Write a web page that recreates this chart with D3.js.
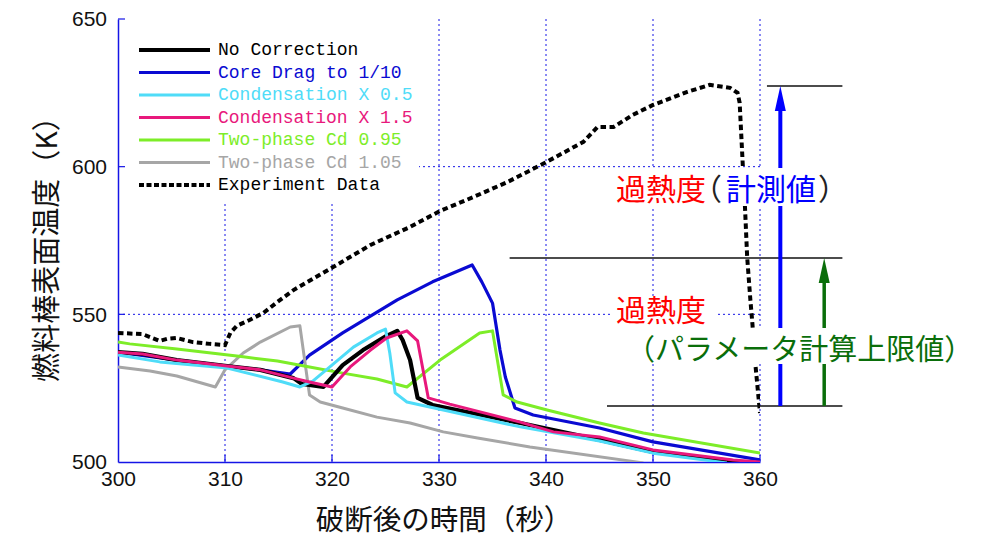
<!DOCTYPE html>
<html><head><meta charset="utf-8">
<script src="https://cdn.jsdelivr.net/npm/d3@7"></script>
<style>html,body{margin:0;padding:0;background:#fff;}svg{display:block;}</style>
</head><body><svg id="chart" width="984" height="539"></svg>
<script>
// ---- data ----
const xTicks = [300, 310, 320, 330, 340, 350, 360];
const yTicks = [500, 550, 600, 650];
const seriesNames = ["No Correction","Core Drag to 1/10","Condensation X 0.5","Condensation X 1.5","Two-phase Cd 0.95","Two-phase Cd 1.05","Experiment Data"];
const noCorrection = [[300,537.2],[302.3,536.6],[305.5,534.5],[310.2,532.5],[313.3,531.2],[316.4,528.4],[317.2,526.4],[319.2,525.4],[321.0,532.8],[322.9,537.9],[325.1,542.7],[326.1,544.4],[326.6,541.3],[327.3,534.5],[328.0,521.7],[329.4,519.3],[337.6,513.2],[345.0,507.5],[350.0,503.4],[358.8,499.7]];
const coreDrag = [[300,537.2],[305.5,534.5],[310.2,532.5],[313.3,531.2],[316.1,529.8],[317.9,536.2],[321.0,543.7],[326.1,554.9],[329.4,561.0],[333.1,566.7],[334.0,561.0],[335.0,553.8],[335.7,537.9],[336.2,528.8],[337.1,518.3],[338.8,515.9],[345.0,511.5],[350.0,506.8],[360,500.7]];
const condensation05 = [[300,536.2],[303.9,533.9],[310.2,531.8],[315.4,527.1],[317.0,525.4],[318.2,527.4],[319.8,532.2],[322.0,538.9],[324.2,543.7],[325.0,545.0],[325.4,536.9],[325.9,523.4],[327.0,520.3],[330.4,517.6],[337.6,511.9],[345.0,507.1],[350.0,503.0],[356.9,499.7]];
const condensation15 = [[300,537.2],[302.3,536.6],[305.5,534.5],[310.2,532.5],[313.3,531.2],[316.4,528.4],[317.9,527.1],[320.0,525.4],[321.7,532.2],[323.6,537.9],[325.1,542.0],[327.0,544.4],[328.0,541.0],[329.0,521.7],[331.0,519.6],[337.6,513.5],[340.7,510.2],[345.0,508.5],[350.0,504.1],[357.5,500.7],[360,500]];
const twoPhase095 = [[300,540.6],[301.1,540.0],[305.5,538.3],[311.7,535.6],[314.9,534.2],[317.9,532.2],[321.0,530.1],[324.2,528.1],[327.0,525.4],[330.1,534.5],[333.8,543.7],[335.0,544.4],[336.0,522.7],[337.3,520.3],[340.1,517.6],[345.0,513.2],[349.1,509.8],[360,503.0]];
const twoPhase105 = [[300,532.2],[303.0,530.8],[305.5,529.1],[309.1,525.4],[310.0,531.2],[311.7,536.9],[313.3,540.6],[316.1,545.7],[317.0,546.1],[317.9,522.7],[318.9,520.3],[321.0,518.3],[324.2,515.2],[327.3,513.2],[330.4,510.2],[333.6,508.1],[338.5,505.1],[349.1,499.7]];
const experiment = [[300,543.7],[302.3,543.3],[303.9,541.0],[304.6,541.7],[305.5,542.0],[307.0,540.6],[308.6,540.0],[310.0,539.6],[310.5,543.7],[311.1,546.1],[312.3,548.1],[313.6,550.5],[314.9,554.2],[316.4,558.2],[320.1,566.0],[323.6,573.5],[327.3,579.6],[330.1,585.0],[333.2,589.7],[336.4,594.8],[339.9,601.3],[343.5,608.4],[344.8,613.4],[346.3,613.4],[348.1,617.5],[350.0,620.9],[353.2,625.3],[355.3,627.7],[357.2,626.7],[357.9,625.0],[358.1,621.6],[358.4,599.9],[358.6,586.0],[358.8,569.4],[359.1,554.9],[359.3,546.4],[359.5,535.6],[360.0,516.6]];
// annotation reference levels (K) and their horizontal extents (s)
const refLevels = [627.3, 569.1, 519.0];
const refStarts = [360.65, 336.6, 345.7];
const refEnd = 367.7;
const arrowX = [361.9, 366.0];
const annoMeasured = ["過熱度", "（", "計測値", "）"];
const annoParam = ["過熱度", "（パラメータ計算上限値）"];
const xTitle = "破断後の時間（秒）";
const yTitle = "燃料棒表面温度（K）";

// ---- chart ----
const svg = d3.select("#chart");
const L = 118, R = 760, T = 19, B = 462;
const x = d3.scaleLinear().domain([300, 360]).range([L, R]);
const y = d3.scaleLinear().domain([500, 650]).range([B, T]);
const axisBlue = "#1515e6";
const jp = "'Noto Sans CJK JP','Noto Sans',sans-serif";

svg.append("defs").append("clipPath").attr("id","clip")
  .append("rect").attr("x", L).attr("y", T).attr("width", R - L).attr("height", B - T);

// gridlines
const grid = svg.append("g");
grid.selectAll("line.v").data(xTicks.slice(1)).join("line")
  .attr("x1", d => x(d)).attr("x2", d => x(d)).attr("y1", T).attr("y2", B)
  .attr("stroke", axisBlue).attr("stroke-width", 1).attr("stroke-dasharray", "2,3");
grid.selectAll("line.h").data([550, 600]).join("line")
  .attr("x1", L).attr("x2", R).attr("y1", d => y(d)).attr("y2", d => y(d))
  .attr("stroke", axisBlue).attr("stroke-width", 1).attr("stroke-dasharray", "2,3");

// legend background (hides grid behind legend)
svg.append("rect").attr("x", L + 1).attr("y", T).attr("width", 300).attr("height", 182).attr("fill", "#fff");

// axes
const yAxis = d3.axisLeft(y).tickValues(yTicks).tickSize(0).tickPadding(11);
const gy = svg.append("g").attr("transform", `translate(${L},0)`).call(yAxis);
gy.select(".domain").attr("stroke", axisBlue).attr("stroke-width", 1.5);
gy.selectAll("text").attr("font-family", "'Liberation Sans',Arial,sans-serif").attr("font-size", 21).attr("fill", "#111");
svg.append("g").selectAll("line").data(yTicks.slice(1)).join("line")
  .attr("x1", L).attr("x2", L + 7).attr("y1", d => y(d)).attr("y2", d => y(d))
  .attr("stroke", axisBlue).attr("stroke-width", 1.2);

const xAxis = d3.axisBottom(x).tickValues(xTicks).tickSize(0).tickPadding(9);
const gx = svg.append("g").attr("transform", `translate(0,${B})`).call(xAxis);
gx.select(".domain").attr("stroke", axisBlue).attr("stroke-width", 1.5);
gx.selectAll("text").attr("font-family", "'Liberation Sans',Arial,sans-serif").attr("font-size", 21).attr("fill", "#111");
svg.append("g").selectAll("line").data(xTicks.slice(1)).join("line")
  .attr("x1", d => x(d)).attr("x2", d => x(d)).attr("y1", B).attr("y2", B - 7)
  .attr("stroke", axisBlue).attr("stroke-width", 1.2);

// curves
const line = d3.line().x(d => x(d[0])).y(d => y(d[1]));
const series = [
  {data: coreDrag, color: "#0a0ad2", w: 3.2},
  {data: twoPhase105, color: "#a6a6a6", w: 3},
  {data: twoPhase095, color: "#7ded28", w: 3},
  {data: noCorrection, color: "#000000", w: 4.2},
  {data: condensation05, color: "#4fdcf8", w: 3},
  {data: condensation15, color: "#e8187c", w: 3},
];
const curves = svg.append("g").attr("clip-path", "url(#clip)");
curves.selectAll("path.s").data(series).join("path")
  .attr("d", d => line(d.data)).attr("fill", "none")
  .attr("stroke", d => d.color).attr("stroke-width", d => d.w).attr("stroke-linejoin", "round");
curves.append("path").attr("d", line(experiment)).attr("fill", "none")
  .attr("stroke", "#000").attr("stroke-width", 4).attr("stroke-dasharray", "5.5,3.5");

// annotation reference lines
const ann = svg.append("g");
ann.selectAll("line.ref").data(refLevels).join("line")
  .attr("x1", (d, i) => x(refStarts[i])).attr("x2", x(refEnd))
  .attr("y1", d => y(d)).attr("y2", d => y(d)).attr("stroke", "#111").attr("stroke-width", 1.5);
// arrows
function arrow(xv, top, bottom, color, w) {
  const px = x(xv), yt = y(top), yb = y(bottom);
  ann.append("line").attr("x1", px).attr("x2", px).attr("y1", yb).attr("y2", yt + 20)
    .attr("stroke", color).attr("stroke-width", w);
  ann.append("path").attr("d", `M${px},${yt} L${px - 5.5},${yt + 25} L${px + 5.5},${yt + 25} Z`).attr("fill", color);
}
arrow(arrowX[0], refLevels[0], refLevels[2], "#0000ff", 4);
arrow(arrowX[1], refLevels[1], refLevels[2], "#0a6e0a", 3.5);

// annotation text boxes
svg.append("rect").attr("x", 612).attr("y", 168).attr("width", 232).attr("height", 38).attr("fill", "#fff");
svg.append("rect").attr("x", 612).attr("y", 296).attr("width", 104).attr("height", 30).attr("fill", "#fff");
svg.append("rect").attr("x", 636).attr("y", 328).attr("width", 336).attr("height", 36).attr("fill", "#fff");

const t1 = svg.append("text").attr("y", 187).attr("dominant-baseline", "central")
  .attr("font-family", jp).attr("font-size", 30);
t1.append("tspan").attr("x", 616).attr("fill", "#ff0000").text(annoMeasured[0]);
t1.append("tspan").attr("x", 707).attr("fill", "#222").style("font-feature-settings", "'halt'").text(annoMeasured[1]);
t1.append("tspan").attr("x", 726).attr("fill", "#0000ff").text(annoMeasured[2]);
t1.append("tspan").attr("x", 818).attr("fill", "#222").style("font-feature-settings", "'halt'").text(annoMeasured[3]);

svg.append("text").attr("x", 616).attr("y", 308).attr("dominant-baseline", "central")
  .attr("font-family", jp).attr("font-size", 30).attr("fill", "#ff0000").text(annoParam[0]);
svg.append("text").attr("x", 626).attr("y", 347).attr("dominant-baseline", "central")
  .attr("font-family", jp).attr("font-size", 29).attr("fill", "#0a6e0a").text(annoParam[1]);

// legend
const legendColors = ["#000000","#0a0ad2","#4fdcf8","#e8187c","#7ded28","#a6a6a6","#000000"];
const lg = svg.append("g");
const rowY = i => 50 + i * 22.5;
seriesNames.forEach((name, i) => {
  lg.append("line").attr("x1", 139).attr("x2", 210).attr("y1", rowY(i)).attr("y2", rowY(i))
    .attr("stroke", legendColors[i]).attr("stroke-width", i === 0 || i === 6 ? 4 : 3)
    .attr("stroke-dasharray", i === 6 ? "5,2.5" : null);
  lg.append("text").attr("x", 218).attr("y", rowY(i)).attr("dominant-baseline", "central")
    .attr("font-family", "'Liberation Mono','DejaVu Sans Mono',monospace").attr("font-size", 18)
    .attr("fill", i === 6 ? "#000" : legendColors[i]).text(name);
});

// axis titles
svg.append("text").attr("x", 444).attr("y", 517).attr("text-anchor", "middle").attr("dominant-baseline", "central")
  .attr("font-family", jp).attr("font-size", 28.5).attr("fill", "#111").text(xTitle);
svg.append("text").attr("transform", "translate(44,242) rotate(-90)").attr("text-anchor", "middle").attr("dominant-baseline", "central")
  .attr("font-family", jp).attr("font-size", 29).attr("fill", "#111").text(yTitle);
</script></body></html>
